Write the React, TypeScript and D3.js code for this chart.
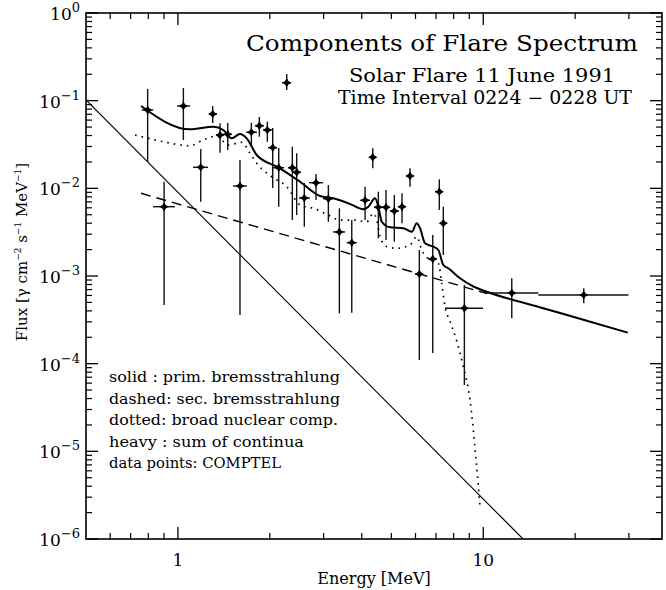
import React from 'react';
import * as d3 from 'd3';

const W = 666;
const H = 590;
const PLOT = { left: 86, right: 662, top: 13, bottom: 539 };

// axes
const xDomain = [0.5, 38.5];
const yDomain = [1e-6, 1];
const xMajorTicks = [1, 10];
const xTickLabels = ['1', '10'];
const xMinorTicks = [0.6, 0.7, 0.8, 0.9, 2, 3, 4, 5, 6, 7, 8, 9, 20, 30];
const yMajorExponents = [0, -1, -2, -3, -4, -5, -6];

// COMPTEL data points (MeV, photons cm^-2 s^-1 MeV^-1)
const energy = [0.796, 0.901, 1.042, 1.188, 1.300, 1.374, 1.456, 1.597, 1.740, 1.848, 1.963, 2.044, 2.139, 2.272, 2.370, 2.449, 2.594, 2.834, 3.110, 3.379, 3.710, 4.102, 4.347, 4.534, 4.804, 5.114, 5.420, 5.756, 6.176, 6.833, 7.181, 7.400, 8.673, 12.40, 21.34];
const energyLow = [0.761, 0.829, 0.993, 1.121, 1.264, 1.333, 1.405, 1.515, 1.672, 1.789, 1.900, 1.973, 2.049, 2.193, 2.294, 2.382, 2.493, 2.688, 2.988, 3.221, 3.572, 3.950, 4.227, 4.389, 4.661, 4.951, 5.258, 5.586, 5.977, 6.595, 6.952, 7.218, 7.495, 10.14, 15.15];
const energyHigh = [0.831, 0.978, 1.096, 1.255, 1.343, 1.416, 1.504, 1.684, 1.816, 1.914, 2.033, 2.111, 2.226, 2.347, 2.455, 2.530, 2.708, 2.988, 3.221, 3.527, 3.853, 4.258, 4.457, 4.697, 4.951, 5.298, 5.586, 5.933, 6.350, 7.058, 7.384, 7.608, 9.986, 15.15, 29.88];
const flux = [0.0783, 0.00617, 0.0869, 0.01738, 0.0705, 0.0406, 0.0413, 0.01063, 0.0436, 0.0518, 0.0463, 0.0291, 0.01719, 0.1603, 0.01719, 0.01524, 0.00776, 0.01159, 0.00762, 0.00318, 0.0024, 0.0073, 0.0226, 0.00608, 0.00608, 0.00551, 0.00617, 0.01383, 0.001054, 0.001563, 0.00915, 0.00399, 4.28e-4, 6.40e-4, 6.07e-4];
const fluxLow = [0.0201, 4.67e-4, 0.0356, 0.00704, 0.0556, 0.0255, 0.0274, 3.59e-4, 0.0299, 0.0388, 0.0340, 0.01009, 0.00617, 0.1323, 0.00435, 0.00496, 0.00365, 0.00736, 0.00416, 3.75e-4, 3.81e-4, 0.00435, 0.01693, 0.00269, 0.00257, 0.00246, 0.00399, 0.01044, 1.1e-4, 1.32e-4, 0.00566, 0.001737, 5.71e-5, 3.29e-4, 4.88e-4];
const fluxHigh = [0.136, 0.0119, 0.1395, 0.0281, 0.0869, 0.0552, 0.0556, 0.02105, 0.0561, 0.0651, 0.0576, 0.0488, 0.0288, 0.2014, 0.0299, 0.0251, 0.0115, 0.01457, 0.01092, 0.00592, 0.00435, 0.01044, 0.0286, 0.00915, 0.00957, 0.00839, 0.00878, 0.01693, 0.00198, 0.002935, 0.01268, 0.00617, 7.89e-4, 9.42e-4, 7.24e-4];

// solid: primary bremsstrahlung
const primEnergy = [0.5, 13.5];
const primFlux = [0.1018, 1.0e-6];

// dashed: secondary bremsstrahlung
const secEnergy = [0.757, 10.3];
const secFlux = [0.00878, 6.3e-4];

// dotted: broad nuclear component
const nucEnergy = [0.724, 0.896, 1.095, 1.211, 1.340, 1.463, 1.618, 1.723, 1.812, 2.029, 2.272, 2.512, 2.777, 3.110, 3.396, 3.753, 4.154, 4.365, 4.479, 4.592, 4.830, 5.209, 5.758, 6.057, 6.290, 6.695, 7.128, 7.312, 7.496, 7.785, 8.188, 8.607, 9.052, 9.474, 9.761];
const nucFlux = [0.0406, 0.0340, 0.0306, 0.0356, 0.0395, 0.0312, 0.0335, 0.0251, 0.0193, 0.01357, 0.01044, 0.00646, 0.00592, 0.00496, 0.00435, 0.00435, 0.00416, 0.00519, 0.00435, 0.00281, 0.00216, 0.00207, 0.00226, 0.00281, 0.00198, 0.00152, 0.001396, 8.26e-4, 4.47e-4, 3.05e-4, 1.81e-4, 9.24e-5, 3.85e-5, 7.96e-6, 2.32e-6];

// heavy: sum of continua
const sumEnergy = [0.757, 1.095, 1.306, 1.408, 1.501, 1.597, 1.680, 1.812, 2.160, 2.512, 2.920, 3.228, 3.662, 4.049, 4.205, 4.422, 4.534, 4.652, 4.951, 5.474, 5.833, 6.057, 6.209, 6.448, 6.864, 7.129, 7.400, 7.685, 8.395, 9.282, 10.27, 15.3, 21.55, 29.74];
const sumFlux = [0.0869, 0.0471, 0.0505, 0.0463, 0.0372, 0.0417, 0.0372, 0.0240, 0.01693, 0.0119, 0.00818, 0.00770, 0.00663, 0.00577, 0.00617, 0.00770, 0.00617, 0.00416, 0.00359, 0.00350, 0.00320, 0.00399, 0.00350, 0.00236, 0.00216, 0.00198, 0.001335, 0.001224, 9.42e-4, 7.59e-4, 6.62e-4, 4.41e-4, 3.13e-4, 2.26e-4];

// texts
const titleLines = ['Components of Flare Spectrum', 'Solar Flare 11 June 1991', 'Time Interval 0224 \u2212 0228 UT'];
const legendLines = ['solid : prim. bremsstrahlung', 'dashed: sec. bremsstrahlung', 'dotted: broad nuclear comp.', 'heavy : sum of continua', 'data points: COMPTEL'];

const FONT = '"DejaVu Serif", "Liberation Serif", serif';

export default function App() {
  const x = d3.scaleLog().domain(xDomain).range([PLOT.left, PLOT.right]);
  const y = d3.scaleLog().domain(yDomain).range([PLOT.bottom, PLOT.top]);

  const lineOf = (es: number[], fs: number[], curve = d3.curveLinear) =>
    d3.line<number>().x((_, i) => x(es[i])).y((_, i) => y(fs[i])).curve(curve)(es.map((_, i) => i)) || '';

  const yMinor: number[] = [];
  for (let e = -6; e < 0; e++) for (let m = 2; m <= 9; m++) yMinor.push(m * Math.pow(10, e));

  const star = 'M0,-4.6 L1.7,-1.7 L4.6,0 L1.7,1.7 L0,4.6 L-1.7,1.7 L-4.6,0 L-1.7,-1.7 Z';

  const titleStyle = [
    { x: 246, y: 51, size: 23, len: 392 },
    { x: 349, y: 82, size: 18, len: 266 },
    { x: 338, y: 104, size: 18, len: 294 },
  ];
  const legendWidths = [231, 231, 229, 195, 172];

  return (
    <svg width={W} height={H} style={{ position: 'absolute', left: 0, top: 0, background: '#fff' }} fontFamily={FONT}>
      <defs>
        <clipPath id="plotclip">
          <rect x={PLOT.left} y={PLOT.top} width={PLOT.right - PLOT.left} height={PLOT.bottom - PLOT.top} />
        </clipPath>
      </defs>
      <rect width={W} height={H} fill="#fff" />

      <g clipPath="url(#plotclip)">
        {/* primary bremsstrahlung */}
        <path d={lineOf(primEnergy, primFlux)} fill="none" stroke="#000" strokeWidth={1.1} />
        {/* secondary */}
        <path d={lineOf(secEnergy, secFlux)} fill="none" stroke="#000" strokeWidth={1.4} strokeDasharray="10,6" />
        {/* nuclear */}
        <path d={lineOf(nucEnergy, nucFlux, d3.curveMonotoneX)} fill="none" stroke="#000" strokeWidth={1.7} strokeDasharray="1.6,5" />
        {/* sum */}
        <path d={lineOf(sumEnergy, sumFlux, d3.curveMonotoneX)} fill="none" stroke="#000" strokeWidth={2} strokeLinejoin="round" />

        {/* data points */}
        {energy.map((e, i) => (
          <g key={i}>
            <line x1={x(e)} x2={x(e)} y1={y(fluxLow[i])} y2={y(fluxHigh[i])} stroke="#111" strokeWidth={1.4} />
            <line x1={x(energyLow[i])} x2={x(energyHigh[i])} y1={y(flux[i])} y2={y(flux[i])} stroke="#111" strokeWidth={1.4} />
            <path d={star} transform={`translate(${x(e)},${y(flux[i])})`} fill="#000" />
          </g>
        ))}
      </g>

      {/* frame */}
      <rect x={PLOT.left} y={PLOT.top} width={PLOT.right - PLOT.left} height={PLOT.bottom - PLOT.top} fill="none" stroke="#000" strokeWidth={1.6} />

      {/* x ticks */}
      {xMajorTicks.map((t) => (
        <g key={'xM' + t}>
          <line x1={x(t)} x2={x(t)} y1={PLOT.bottom} y2={PLOT.bottom - 12} stroke="#000" strokeWidth={1.3} />
          <line x1={x(t)} x2={x(t)} y1={PLOT.top} y2={PLOT.top + 12} stroke="#000" strokeWidth={1.3} />
        </g>
      ))}
      {xMinorTicks.map((t) => (
        <g key={'xm' + t}>
          <line x1={x(t)} x2={x(t)} y1={PLOT.bottom} y2={PLOT.bottom - 6} stroke="#000" strokeWidth={1.2} />
          <line x1={x(t)} x2={x(t)} y1={PLOT.top} y2={PLOT.top + 6} stroke="#000" strokeWidth={1.2} />
        </g>
      ))}
      {xMajorTicks.map((t, i) => (
        <text key={'xl' + t} x={x(t)} y={566} textAnchor="middle" fontSize={17}>{xTickLabels[i]}</text>
      ))}
      <text x={(PLOT.left + PLOT.right) / 2} y={584} textAnchor="middle" fontSize={16}>Energy [MeV]</text>

      {/* y ticks */}
      {yMajorExponents.map((e) => (
        <g key={'yM' + e}>
          <line x1={PLOT.left} x2={PLOT.left + 12} y1={y(Math.pow(10, e))} y2={y(Math.pow(10, e))} stroke="#000" strokeWidth={1.3} />
          <line x1={PLOT.right} x2={PLOT.right - 12} y1={y(Math.pow(10, e))} y2={y(Math.pow(10, e))} stroke="#000" strokeWidth={1.3} />
        </g>
      ))}
      {yMinor.map((t, i) => (
        <g key={'ym' + i}>
          <line x1={PLOT.left} x2={PLOT.left + 6} y1={y(t)} y2={y(t)} stroke="#000" strokeWidth={1.2} />
          <line x1={PLOT.right} x2={PLOT.right - 6} y1={y(t)} y2={y(t)} stroke="#000" strokeWidth={1.2} />
        </g>
      ))}
      {yMajorExponents.map((e) => (
        <text key={'yl' + e} x={80} y={y(Math.pow(10, e)) + 7} textAnchor="end" fontSize={17}>
          10<tspan dy={-8} fontSize={13}>{e === 0 ? '0' : '\u2212' + -e}</tspan>
        </text>
      ))}
      <text transform="translate(27,252) rotate(-90)" textAnchor="middle" fontSize={15}>
        Flux [γ cm<tspan dy={-6} fontSize={9}>−2</tspan>
        <tspan dy={6}> s</tspan><tspan dy={-6} fontSize={9}>−1</tspan>
        <tspan dy={6}> MeV</tspan><tspan dy={-6} fontSize={9}>−1</tspan>
        <tspan dy={6}>]</tspan>
      </text>

      {/* titles */}
      {titleLines.map((t, i) => (
        <text key={'t' + i} x={titleStyle[i].x} y={titleStyle[i].y} fontSize={titleStyle[i].size}
          textLength={titleStyle[i].len} lengthAdjust="spacingAndGlyphs">{t}</text>
      ))}

      {/* legend */}
      {legendLines.map((t, i) => (
        <text key={'l' + i} x={109} y={382 + i * 21.6} fontSize={15}
          textLength={legendWidths[i]} lengthAdjust="spacingAndGlyphs">{t}</text>
      ))}
    </svg>
  );
}
